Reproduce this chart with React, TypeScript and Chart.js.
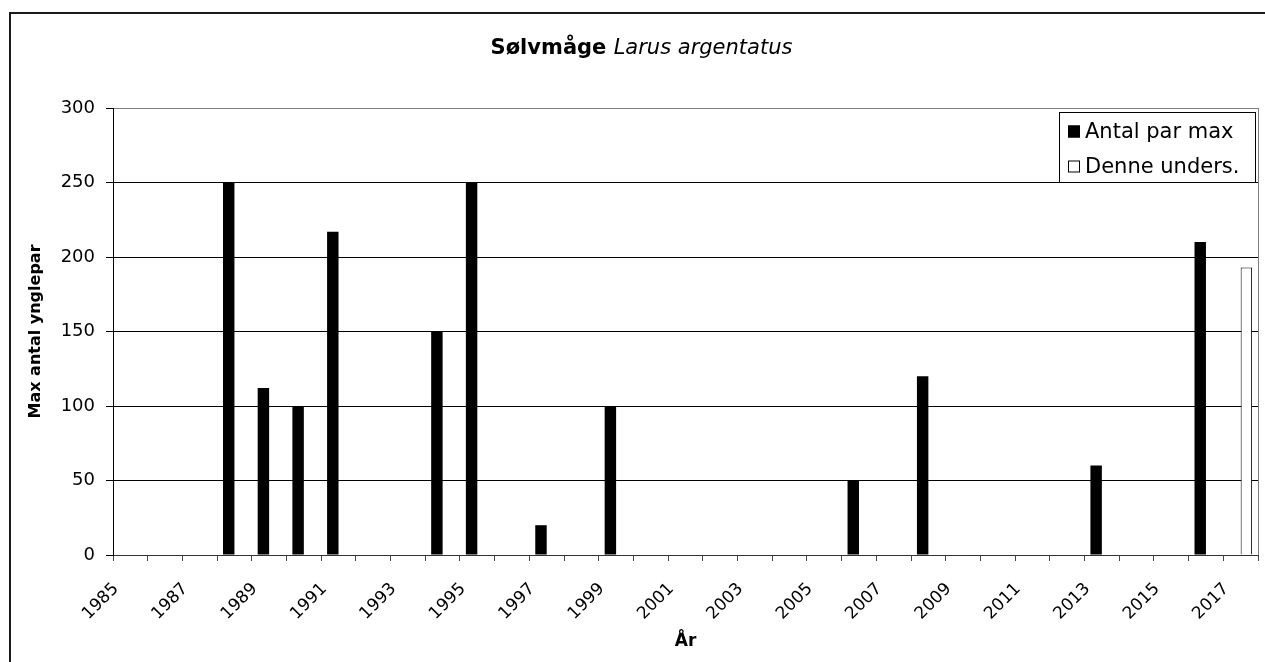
import React, { useEffect, useRef } from 'react';
import { Chart, registerables } from 'chart.js';

Chart.register(...registerables);

// ---------- data ----------
const years: string[] = [
  '1985', '1986', '1987', '1988', '1989', '1990', '1991', '1992', '1993', '1994',
  '1995', '1996', '1997', '1998', '1999', '2000', '2001', '2002', '2003', '2004',
  '2005', '2006', '2007', '2008', '2009', '2010', '2011', '2012', '2013', '2014',
  '2015', '2016', '2017',
];

const antalParMax: (number | null)[] = [
  null, null, null, 250, 112, 100, 217, null, null, 150,
  250, null, 20, null, 100, null, null, null, null, null,
  null, 50, null, 120, null, null, null, null, 60, null,
  null, 210, null,
];

const denneUnders: (number | null)[] = [
  null, null, null, null, null, null, null, null, null, null,
  null, null, null, null, null, null, null, null, null, null,
  null, null, null, null, null, null, null, null, null, null,
  null, null, 193,
];

const yearTickLabels: string[] = [
  '1985', '1987', '1989', '1991', '1993', '1995', '1997', '1999', '2001',
  '2003', '2005', '2007', '2009', '2011', '2013', '2015', '2017',
];

const seriesNames: string[] = ['Antal par max', 'Denne unders.'];
const titleBold = 'Sølvmåge';
const titleItalic = 'Larus argentatus';
const yAxisTitle = 'Max antal ynglepar';
const xAxisTitle = 'År';

const FONT = "'DejaVu Sans', sans-serif";

const decorPlugin = {
  id: 'decor',
  afterDraw(chart: any) {
    const ctx = chart.ctx as CanvasRenderingContext2D;
    const a = chart.chartArea;
    ctx.save();

    // plot area right border (grey)
    ctx.strokeStyle = '#808080';
    ctx.lineWidth = 1;
    ctx.beginPath();
    ctx.moveTo(Math.round(a.right) + 0.5, a.top);
    ctx.lineTo(Math.round(a.right) + 0.5, a.bottom);
    ctx.stroke();

    // outer chart frame
    ctx.strokeStyle = '#1a1a1a';
    ctx.lineWidth = 2;
    ctx.strokeRect(10, 13, chart.width + 40, chart.height + 40);

    // title: bold + italic
    const boldFont = `bold 21px ${FONT}`;
    const italFont = `italic 21px ${FONT}`;
    ctx.font = boldFont;
    const w1 = ctx.measureText(titleBold + ' ').width;
    ctx.font = italFont;
    const w2 = ctx.measureText(titleItalic).width;
    const cx = chart.width / 2 + 9;
    const ty = 49;
    const x = cx - (w1 + w2) / 2;
    ctx.fillStyle = '#000';
    ctx.textAlign = 'left';
    ctx.textBaseline = 'middle';
    ctx.font = boldFont;
    ctx.fillText(titleBold + ' ', x, ty);
    ctx.font = italFont;
    ctx.fillText(titleItalic, x + w1, ty);

    // legend box
    const lw = 196;
    const lh = 70;
    const lx = Math.round(a.right) - 3 - lw;
    const ly = Math.round(a.top) + 4;
    ctx.fillStyle = '#fff';
    ctx.fillRect(lx, ly, lw, lh);
    ctx.strokeStyle = '#000';
    ctx.lineWidth = 1;
    ctx.strokeRect(lx + 0.5, ly + 0.5, lw, lh);
    ctx.font = `21px ${FONT}`;
    chart.data.datasets.forEach((ds: any, i: number) => {
      const rowY = ly + 19.5 + i * 35;
      const mx = lx + 9;
      const ms = 12;
      ctx.fillStyle = ds.backgroundColor;
      ctx.fillRect(mx, rowY - ms / 2, ms, ms);
      ctx.strokeStyle = '#000';
      ctx.lineWidth = 1;
      ctx.strokeRect(mx + 0.5, rowY - ms / 2 + 0.5, ms - 1, ms - 1);
      ctx.fillStyle = '#000';
      ctx.textBaseline = 'middle';
      ctx.fillText(ds.label, lx + 26, rowY + 1);
    });

    ctx.restore();
  },
};

export default function App() {
  const ref = useRef<HTMLCanvasElement>(null);

  useEffect(() => {
    if (!ref.current) return;
    const chart = new Chart(ref.current, {
      type: 'bar',
      data: {
        labels: years,
        datasets: [
          {
            label: seriesNames[0],
            data: antalParMax,
            backgroundColor: '#000000',
            borderColor: '#000000',
            borderWidth: 0,
            xAxisID: 'x',
            yAxisID: 'y',
            categoryPercentage: 0.66,
            barPercentage: 1.0,
          },
          {
            label: seriesNames[1],
            data: denneUnders,
            backgroundColor: '#ffffff',
            borderColor: '#000000',
            borderWidth: 1,
            xAxisID: 'x',
            yAxisID: 'y',
            categoryPercentage: 0.66,
            barPercentage: 1.0,
          },
        ],
      },
      options: {
        responsive: false,
        animation: false,
        devicePixelRatio: 1,
        layout: { padding: { top: 108, right: 7, bottom: 0, left: 0 } },
        plugins: {
          legend: { display: false },
          title: { display: false },
          tooltip: { enabled: false },
        },
        scales: {
          x: {
            type: 'category',
            display: false,
            offset: true,
            grid: { offset: true },
            afterFit: (s: any) => {
              s.paddingLeft = 0;
              s.paddingRight = 0;
            },
          },
          x2: {
            type: 'linear',
            position: 'bottom',
            offset: false,
            min: Number(years[0]),
            max: Number(years[years.length - 1]) + 1,
            afterFit: (s: any) => {
              s.height = 107;
              s.paddingLeft = 0;
              s.paddingRight = 0;
            },
            ticks: {
              stepSize: 1,
              maxTicksLimit: 100,
              autoSkip: false,
              maxRotation: 45,
              minRotation: 45,
              padding: 18,
              labelOffset: 3,
              color: '#000',
              font: { family: FONT, size: 17 },
              callback: (v: any) => {
                const s = String(v);
                return yearTickLabels.includes(s) ? s : '';
              },
            },
            grid: {
              offset: false,
              drawOnChartArea: false,
              drawTicks: true,
              tickLength: 6,
              color: '#444',
            },
            border: { display: true, color: '#333', width: 1 },
            title: {
              display: true,
              text: xAxisTitle,
              color: '#000',
              font: { family: FONT, size: 17, weight: 'bold' },
              padding: { top: 0, bottom: 10 },
            },
          },
          y: {
            min: 0,
            max: 300,
            afterFit: (s: any) => {
              s.width = 113;
              s.paddingTop = 0;
              s.paddingBottom = 0;
            },
            ticks: {
              stepSize: 50,
              padding: 11,
              color: '#000',
              font: { family: FONT, size: 18 },
            },
            grid: {
              color: (c: any) => (c.tick && c.tick.value === 300 ? '#808080' : '#000'),
              tickColor: '#000',
              tickLength: 7,
            },
            border: { display: true, color: '#000', width: 1 },
            title: {
              display: true,
              text: yAxisTitle,
              color: '#000',
              font: { family: FONT, size: 16, weight: 'bold' },
              padding: { top: 26, bottom: 0 },
            },
          },
        },
      } as any,
      plugins: [decorPlugin],
    });
    return () => chart.destroy();
  }, []);

  return (
    <div style={{ position: 'absolute', left: 0, top: 0, width: 1265, height: 662, background: '#fff' }}>
      <canvas ref={ref} width={1265} height={662} style={{ display: 'block' }} />
    </div>
  );
}
